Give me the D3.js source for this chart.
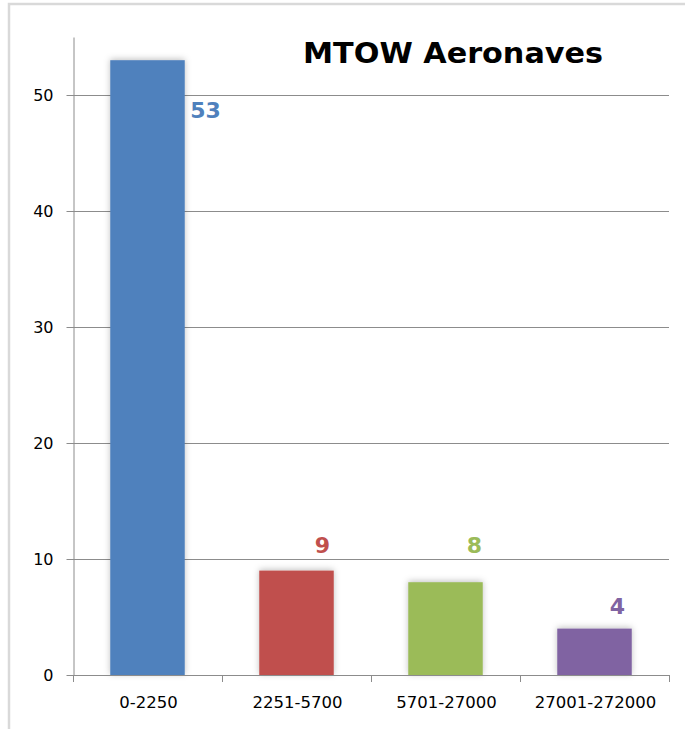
<!DOCTYPE html>
<html>
<head>
<meta charset="utf-8">
<script src="https://cdn.jsdelivr.net/npm/d3@7"></script>
<style>
  html, body { margin: 0; padding: 0; background: #fff; }
  svg { display: block; }
</style>
</head>
<body>
<svg id="chart" width="685" height="729"></svg>
<script>
const title = "MTOW Aeronaves";
const categories = ["0-2250", "2251-5700", "5701-27000", "27001-272000"];
const values = [53, 9, 8, 4];
const yTicks = [0, 10, 20, 30, 40, 50];
const colors = ["#4F81BD", "#C0504D", "#9BBB59", "#8064A2"];
// label placement offsets (styling, px) relative to bar centre / bar top
const labelOffsets = [[58, 58], [26, -17.5], [29, -29], [23, -15]];

(function () {
const svg = d3.select("#chart");
const W = 685, H = 729;
const pLeft = 73, pRight = 669, pTop = 37, pBottom = 675;

// outer frame
svg.append("rect")
  .attr("x", 9).attr("y", 4)
  .attr("width", W + 20).attr("height", H + 20)
  .attr("fill", "none").attr("stroke", "#d9d9d9").attr("stroke-width", 2.5);

const defs = svg.append("defs");
const f = defs.append("filter").attr("id", "shadow")
  .attr("x", "-20%").attr("y", "-20%").attr("width", "140%").attr("height", "140%");
f.append("feDropShadow").attr("dx", 0).attr("dy", -1).attr("stdDeviation", 3)
  .attr("flood-color", "#000").attr("flood-opacity", 0.25);

const x = d3.scaleBand().domain(categories).range([pLeft, pRight])
  .paddingInner(0.5).paddingOuter(0.25);
const y = d3.scaleLinear().domain([0, 55]).range([pBottom, pTop]);

// gridlines
svg.append("g").selectAll("line").data(yTicks.filter(d => d > 0)).join("line")
  .attr("x1", pLeft).attr("x2", pRight)
  .attr("y1", d => Math.round(y(d)) + 0.5).attr("y2", d => Math.round(y(d)) + 0.5)
  .attr("stroke", "#8c8c8c").attr("stroke-width", 1);

// y axis
const yAxis = svg.append("g")
  .attr("transform", `translate(${pLeft + 0.5},0)`)
  .call(d3.axisLeft(y).tickValues(yTicks).tickSize(7).tickPadding(13).tickSizeOuter(0));
yAxis.select(".domain").attr("stroke", "#8c8c8c");
yAxis.selectAll(".tick line").attr("stroke", "#8c8c8c");
yAxis.selectAll(".tick text")
  .attr("font-family", "DejaVu Sans").attr("font-size", 16).attr("fill", "#000");

// bars
svg.append("g").selectAll("rect").data(values).join("rect")
  .attr("x", (d, i) => x(categories[i]))
  .attr("y", d => y(d))
  .attr("width", x.bandwidth())
  .attr("height", d => y(0) - y(d))
  .attr("fill", (d, i) => colors[i])
  .attr("filter", "url(#shadow)");

// x axis baseline + ticks at category boundaries
const step = x.step();
const boundaries = d3.range(categories.length + 1).map(i => pLeft + i * step);
svg.append("line")
  .attr("x1", pLeft).attr("x2", pRight)
  .attr("y1", pBottom + 0.5).attr("y2", pBottom + 0.5)
  .attr("stroke", "#8c8c8c");
svg.append("g").selectAll("line").data(boundaries).join("line")
  .attr("x1", d => Math.round(d) + 0.5).attr("x2", d => Math.round(d) + 0.5)
  .attr("y1", pBottom).attr("y2", pBottom + 7)
  .attr("stroke", "#8c8c8c");

// x labels
svg.append("g").selectAll("text").data(categories).join("text")
  .attr("x", d => x(d) + x.bandwidth() / 2 + 1)
  .attr("y", 708)
  .attr("text-anchor", "middle")
  .attr("font-family", "DejaVu Sans").attr("font-size", 16.5).attr("fill", "#000")
  .text(d => d);

// data labels
svg.append("g").selectAll("text").data(values).join("text")
  .attr("x", (d, i) => x(categories[i]) + x.bandwidth() / 2 + labelOffsets[i][0])
  .attr("y", (d, i) => y(d) + labelOffsets[i][1])
  .attr("text-anchor", "middle")
  .attr("font-family", "DejaVu Sans").attr("font-weight", "bold").attr("font-size", 22)
  .attr("fill", (d, i) => colors[i])
  .text(d => d);

// title
svg.append("text")
  .attr("x", 303).attr("y", 63)
  .attr("font-family", "DejaVu Sans").attr("font-weight", "bold").attr("font-size", 27.5)
  .attr("textLength", 300).attr("lengthAdjust", "spacingAndGlyphs")
  .attr("fill", "#000")
  .text(title);
})();
</script>
</body>
</html>
